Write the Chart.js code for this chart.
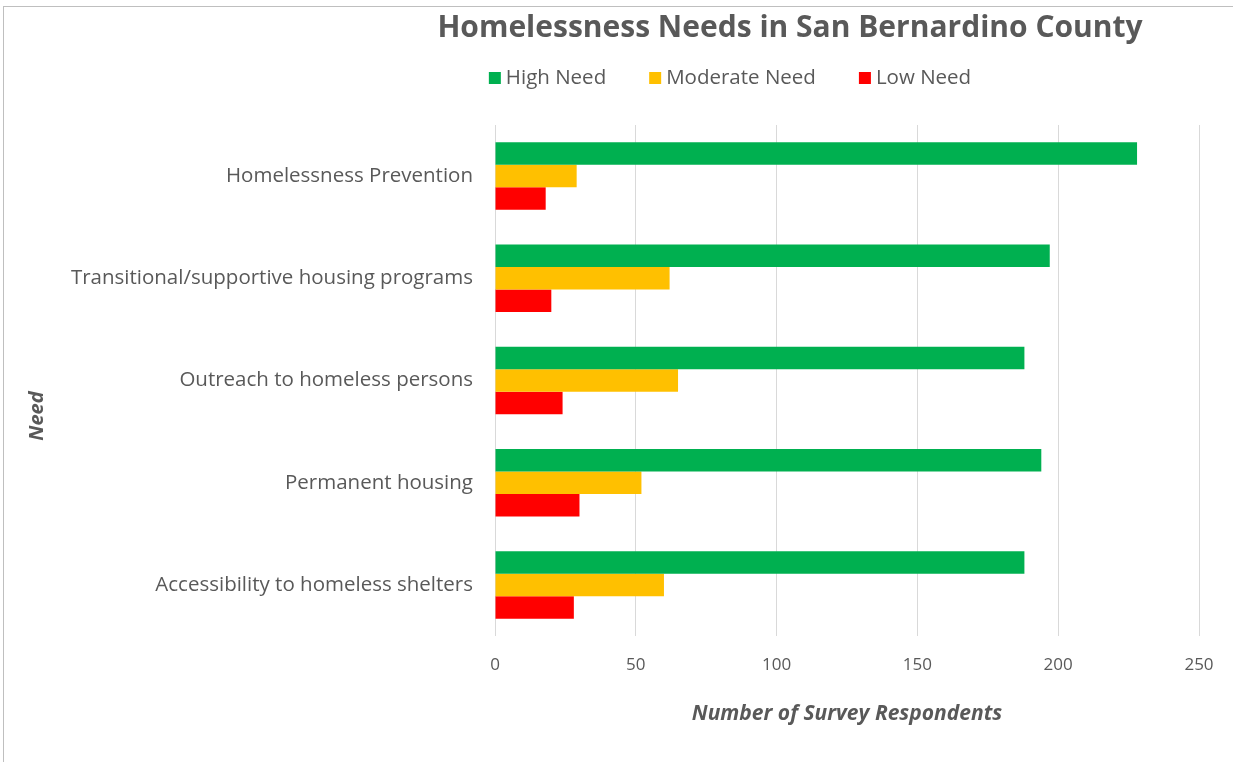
<!DOCTYPE html>
<html>
<head>
<meta charset="utf-8">
<script src="https://cdn.jsdelivr.net/npm/chart.js@4.4.1/dist/chart.umd.min.js"></script>
<style>
  html, body { margin: 0; padding: 0; background: #fff; }
  #frame { position: absolute; left: 3px; top: 6px; width: 1230px; height: 756px;
           border-top: 1px solid #bfbfbf; border-left: 1px solid #bfbfbf; }
  #wrap { position: absolute; left: 0; top: 0; width: 1233px; height: 762px; }
</style>
</head>
<body>
<div id="frame"></div>
<div id="wrap"><canvas id="myChart"></canvas></div>
<script>
var categories = ['Homelessness Prevention', 'Transitional/supportive housing programs',
    'Outreach to homeless persons', 'Permanent housing', 'Accessibility to homeless shelters']
var seriesNames = ['High Need', 'Moderate Need', 'Low Need']
var highNeed = [228, 197, 188, 194, 188]
var moderateNeed = [29, 62, 65, 52, 60]
var lowNeed = [18, 20, 24, 30, 28]
var xTicks = [0, 50, 100, 150, 200, 250]
var colors = ['#00B050', '#FFC000', '#FF0000']
var chartTitle = 'Homelessness Needs in San Bernardino County'
var yTitle = 'Need'

var fontName = 'Open Sans'
var textColor = '#595959'

// title, legend and y title sit off-centre in the original, so they are drawn here
var headerPlugin = {
    id: 'header',
    afterDraw: function (chart) {
        var ctx = chart.ctx
        ctx.save()
        ctx.fillStyle = textColor
        ctx.textBaseline = 'middle'
        ctx.textAlign = 'center'
        ctx.font = 'bold 30px ' + fontName
        ctx.fillText(chartTitle, 790, 28)

        ctx.save()
        ctx.translate(37, 416)
        ctx.rotate(-Math.PI / 2)
        ctx.font = 'italic bold 20px ' + fontName
        ctx.fillText(yTitle, 0, 0)
        ctx.restore()

        ctx.font = '20.5px ' + fontName
        ctx.textAlign = 'left'
        var box = 12, gap = 5, spacing = 43
        var widths = chart.data.datasets.map(function (d) { return ctx.measureText(d.label).width })
        var total = 0
        widths.forEach(function (w) { total += box + gap + w })
        total += spacing * (widths.length - 1)
        var x = 730 - total / 2
        chart.data.datasets.forEach(function (d, i) {
            ctx.fillStyle = d.backgroundColor
            ctx.fillRect(x, 72, box, box)
            ctx.fillStyle = textColor
            ctx.fillText(d.label, x + box + gap, 78)
            x += box + gap + widths[i] + spacing
        })
        ctx.restore()
    }
}

var ctx = document.getElementById('myChart').getContext('2d');
var myChart = new Chart(ctx, {
    type: 'bar',
    data: {
        labels: categories,
        datasets: [
            { label: seriesNames[0], data: highNeed, backgroundColor: colors[0] },
            { label: seriesNames[1], data: moderateNeed, backgroundColor: colors[1] },
            { label: seriesNames[2], data: lowNeed, backgroundColor: colors[2] }
        ]
    },
    options: {
        indexAxis: 'y',
        responsive: true,
        maintainAspectRatio: false,
        animation: false,
        datasets: {
            bar: { categoryPercentage: 0.66, barPercentage: 1.0 }
        },
        layout: {
            padding: { top: 125, right: 34, bottom: 0, left: 0 }
        },
        plugins: {
            legend: { display: false },
            title: { display: false },
            tooltip: { enabled: false }
        },
        scales: {
            x: {
                min: 0,
                max: 250,
                afterBuildTicks: function (scale) {
                    scale.ticks = xTicks.map(function (v) { return { value: v } })
                },
                afterFit: function (scale) { scale.height = 126 },
                grid: { color: '#d9d9d9', lineWidth: 1, drawTicks: false },
                border: { display: false },
                ticks: {
                    padding: 19,
                    color: textColor,
                    font: { family: fontName, size: 17 }
                },
                title: {
                    display: true,
                    text: 'Number of Survey Respondents',
                    color: textColor,
                    padding: 35,
                    font: { family: fontName, size: 21, weight: 'bold', style: 'italic' }
                }
            },
            y: {
                afterFit: function (scale) { scale.width = 495 },
                grid: { display: false, drawTicks: false },
                border: { display: false },
                ticks: {
                    padding: 22,
                    color: textColor,
                    font: { family: fontName, size: 20.5 }
                },
                title: { display: false }
            }
        }
    },
    plugins: [headerPlugin]
});
</script>
</body>
</html>
